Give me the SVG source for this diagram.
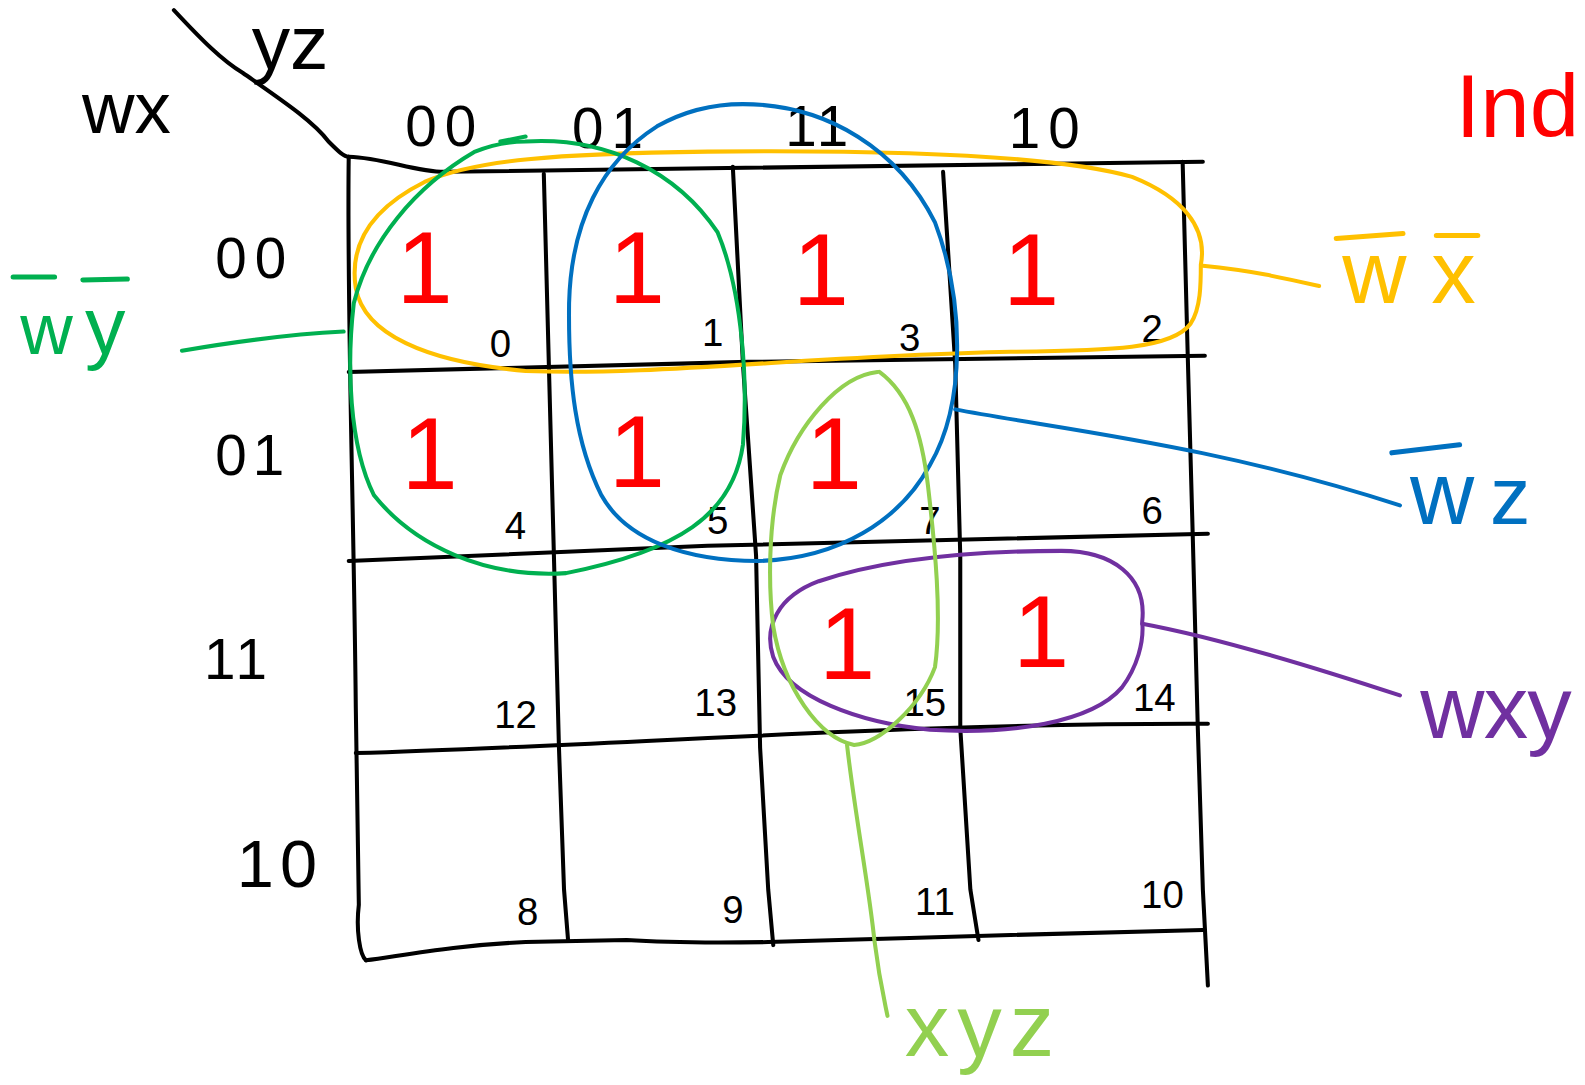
<svg xmlns="http://www.w3.org/2000/svg" width="1585" height="1085" viewBox="0 0 1585 1085">
<style>
.ink{fill:none;stroke:#000;stroke-width:4;stroke-linecap:round;stroke-linejoin:round}
.hd{font-family:"Liberation Sans","DejaVu Sans",sans-serif;fill:#000;text-anchor:middle}
.one{font-family:"Liberation Sans","DejaVu Sans",sans-serif;fill:#FF0000;font-size:100px;text-anchor:middle}
.num{font-family:"Liberation Sans","DejaVu Sans",sans-serif;fill:#000;font-size:38px;text-anchor:middle}
.lp{fill:none;stroke-width:4;stroke-linecap:round;stroke-linejoin:round}
.lbl{font-family:"Liberation Sans","DejaVu Sans",sans-serif;font-size:88px}
.bar{fill:none;stroke-width:5;stroke-linecap:round}
</style>
<rect width="1585" height="1085" fill="#fff"/>
<g transform="scale(1.0108)">
<g id="grid">
<path class="ink" d="M172,10 C200,40 220,60 240,72 C280,100 310,120 325,140 C335,150 340,155 345,155"/>
<path class="ink" d="M345,155 C380,156 410,170 440,170 L1190,160"/>
<path class="ink" d="M345,155 C343,300 350,500 352,700 L355,895 C352,920 356,945 362,950"/>
<path class="ink" d="M362,950 C400,945 450,935 520,932 L620,930 C650,932 700,933 760,932 L900,928 L1000,925 L1190,920"/>
<path class="ink" d="M538,172 L548,550 L553,740 L558,880 L562,930"/>
<path class="ink" d="M725,165 L735,360 L748,550 L752,740 L760,880 L765,935"/>
<path class="ink" d="M933,170 L945,360 L950,550 L950,720 L960,880 L968,930"/>
<path class="ink" d="M1170,160 L1175,350 L1180,530 L1185,720 L1190,880 L1195,975"/>
<path class="ink" d="M345,368 L740,358 L1192,352"/>
<path class="ink" d="M345,555 L700,540 L1195,528"/>
<path class="ink" d="M352,745 C600,738 900,715 1195,716"/>
</g>
<g id="headers">
<text class="hd" x="125" y="132" font-size="72">wx</text>
<text class="hd" x="287" y="68" font-size="76">yz</text>
<text class="hd" x="440" y="144" font-size="56" letter-spacing="8">00</text>
<text class="hd" x="605" y="146" font-size="56" letter-spacing="8">01</text>
<text class="hd" x="810" y="144" font-size="56" letter-spacing="4">11</text>
<text class="hd" x="1037" y="146" font-size="56" letter-spacing="8">10</text>
<text class="hd" x="252" y="275" font-size="56" letter-spacing="8">00</text>
<text class="hd" x="250" y="470" font-size="56" letter-spacing="6">01</text>
<text class="hd" x="235" y="672" font-size="56" letter-spacing="4">11</text>
<text class="hd" x="277" y="878" font-size="66" letter-spacing="6">10</text>
</g>
<g id="cells">
<g id="c0"><text class="one" x="420" y="300">1</text><text class="num" x="495" y="353">0</text></g>
<g id="c1"><text class="one" x="630" y="300">1</text><text class="num" x="705" y="342">1</text></g>
<g id="c3"><text class="one" x="812" y="302">1</text><text class="num" x="900" y="347">3</text></g>
<g id="c2"><text class="one" x="1020" y="302">1</text><text class="num" x="1140" y="338">2</text></g>
<g id="c4"><text class="one" x="425" y="484">1</text><text class="num" x="510" y="533">4</text></g>
<g id="c5"><text class="one" x="630" y="482">1</text><text class="num" x="710" y="528">5</text></g>
<g id="c7"><text class="one" x="825" y="484">1</text><text class="num" x="920" y="528">7</text></g>
<g id="c6"><text class="num" x="1140" y="518">6</text></g>
<g id="c12"><text class="num" x="510" y="720">12</text></g>
<g id="c13"><text class="num" x="708" y="708">13</text></g>
<g id="c15"><text class="one" x="838" y="672">1</text><text class="num" x="915" y="708">15</text></g>
<g id="c14"><text class="one" x="1030" y="660">1</text><text class="num" x="1142" y="703">14</text></g>
<g id="c8"><text class="num" x="522" y="915">8</text></g>
<g id="c9"><text class="num" x="725" y="913">9</text></g>
<g id="c11"><text class="num" x="925" y="905">11</text></g>
<g id="c10"><text class="num" x="1150" y="898">10</text></g>
</g>
<g id="connectors">
<path class="lp" stroke="#FFC000" d="M1188,262 C1195,225 1170,195 1120,175 C1050,155 900,148 700,150 C550,152 470,158 420,180 C370,205 345,240 352,285 C360,330 420,358 520,367 C650,372 800,352 1000,348 C1100,347 1160,345 1178,320 C1188,305 1188,280 1188,262"/>
<path class="lp" stroke="#FFC000" d="M1190,263 C1240,268 1270,275 1305,283"/>
<path class="lp" stroke="#00B050" d="M520,140 C600,135 670,170 710,230 C735,290 740,380 735,440 C725,510 670,545 560,567 C480,572 410,540 370,490 C345,440 343,360 350,300 C365,240 410,185 470,150 C490,142 505,140 520,140"/>
<path class="lp" stroke="#00B050" d="M495,140 L520,135"/>
<path class="lp" stroke="#00B050" d="M340,328 C300,330 250,335 180,347"/>
<path class="lp" stroke="#0070C0" d="M735,103 C820,103 890,150 925,220 C955,300 955,400 920,460 C890,515 830,553 750,555 C680,555 620,535 595,490 C570,440 562,380 563,300 C565,220 595,160 650,125 C680,108 710,103 735,103"/>
<path class="lp" stroke="#0070C0" d="M945,405 C1050,425 1200,440 1385,500"/>
<path class="lp" stroke="#7030A0" d="M1130,615 C1135,570 1100,545 1050,545 C950,545 870,555 810,575 C770,590 755,620 765,650 C780,690 850,715 920,722 C1000,727 1080,715 1110,680 C1125,660 1132,635 1130,615"/>
<path class="lp" stroke="#7030A0" d="M1130,617 C1200,630 1300,660 1385,688"/>
<path class="lp" stroke="#92D050" d="M868,368 C830,372 790,420 772,470 C760,520 760,580 765,620 C775,680 810,730 845,737 C870,735 910,700 925,660 C932,610 925,540 918,480 C912,430 900,390 870,368"/>
<path class="lp" stroke="#92D050" d="M838,737 C845,800 860,880 865,930 C870,970 875,990 878,1005"/>
</g>
<g id="labels">
<text class="lbl" x="1440" y="136" fill="#FF0000" font-size="90">Ind</text>
<text class="lbl" y="300" fill="#FFC000"><tspan x="1328">w</tspan><tspan x="1416">x</tspan></text>
<path class="bar" stroke="#FFC000" d="M1322,236 L1388,231 M1421,233 L1462,233"/>
<text class="lbl" y="350" fill="#00B050"><tspan x="20" font-size="72">w</tspan><tspan x="84" font-size="80">y</tspan></text>
<path class="bar" stroke="#00B050" d="M13,274 L54,274 M82,277 L126,276"/>
<text class="lbl" y="518" fill="#0070C0"><tspan x="1395">w</tspan><tspan x="1474" font-size="80">z</tspan></text>
<path class="bar" stroke="#0070C0" d="M1377,448 L1444,440"/>
<text class="lbl" y="730" fill="#7030A0" font-size="82"><tspan x="1405">w</tspan><tspan x="1468">x</tspan><tspan x="1511">y</tspan></text>
<text class="lbl" x="895" y="1045" fill="#92D050" font-size="90" letter-spacing="8">xyz</text>
</g>
</g>
</svg>
